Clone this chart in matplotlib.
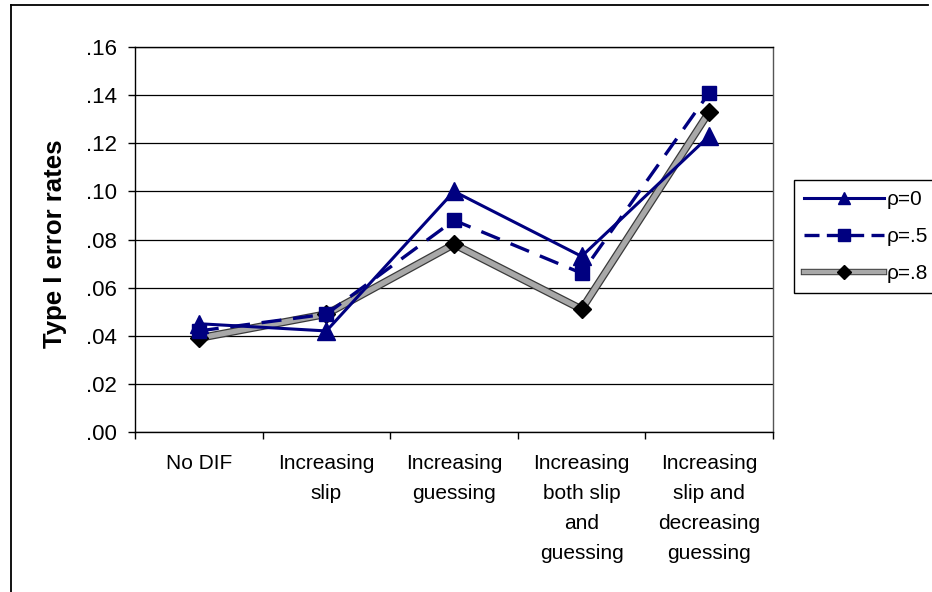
import matplotlib
matplotlib.use("Agg")
import matplotlib.pyplot as plt
import matplotlib.patheffects as pe
from matplotlib.lines import Line2D
from matplotlib.legend_handler import HandlerTuple
from matplotlib.ticker import FixedLocator, FuncFormatter

categories = ["No DIF", "Increasing\nslip", "Increasing\nguessing",
              "Increasing\nboth slip\nand\nguessing",
              "Increasing\nslip and\ndecreasing\nguessing"]
rho0 = [0.045, 0.042, 0.100, 0.073, 0.123]
rho5 = [0.042, 0.049, 0.088, 0.066, 0.141]
rho8 = [0.039, 0.049, 0.078, 0.051, 0.133]
series_labels = ["ρ=0", "ρ=.5", "ρ=.8"]
yticks = [0.00, 0.02, 0.04, 0.06, 0.08, 0.10, 0.12, 0.14, 0.16]

plt.rcParams['font.family'] = ['Liberation Sans', 'DejaVu Sans']

W, H = 932, 592
fig = plt.figure(figsize=(W / 100, H / 100), dpi=100)
fig.patch.set_facecolor('white')

# outer chart border
fig.add_artist(Line2D([11 / W, 928 / W], [1 - 5 / H, 1 - 5 / H], transform=fig.transFigure,
                      color='black', lw=1.3))
fig.add_artist(Line2D([11 / W, 11 / W], [1 - 5 / H, 0], transform=fig.transFigure,
                      color='black', lw=1.3))

ax = fig.add_axes([135 / W, (H - 432) / H, (773 - 135) / W, (432 - 47) / H])
x = list(range(len(categories)))

navy = '#000080'
gray_fx = [pe.Stroke(linewidth=5.6, foreground='#3a3a3a'), pe.Normal()]
l0, = ax.plot(x, rho0, color=navy, lw=2.2, marker='^', markersize=13,
              markeredgecolor=navy, markerfacecolor=navy, zorder=4)
l5, = ax.plot(x, rho5, color=navy, lw=2.4, dashes=(6, 3.5), marker='s', markersize=10,
              markeredgecolor=navy, markerfacecolor=navy, zorder=3)
l8line, = ax.plot(x, rho8, color='#a8a8a8', lw=3.8, zorder=2, path_effects=gray_fx)
l8mark, = ax.plot(x, rho8, linestyle='none', marker='D', markersize=9,
                  markeredgecolor='black', markerfacecolor='black', zorder=2.5)

ax.set_xlim(-0.5, len(categories) - 0.5)
ax.set_ylim(0, 0.16)
ax.yaxis.set_major_locator(FixedLocator(yticks))
ax.yaxis.set_major_formatter(FuncFormatter(lambda v, p: ('%.2f' % v)[1:]))
ax.grid(axis='y', color='black', lw=0.9)
ax.set_axisbelow(True)

ax.set_xticks(x)
ax.set_xticklabels(categories, fontsize=15, linespacing=1.72)
ax.set_xticks([i - 0.5 for i in range(len(categories) + 1)], minor=True)
ax.tick_params(axis='x', which='major', length=0, pad=16)
ax.tick_params(axis='x', which='minor', length=5, direction='out', width=1)
ax.tick_params(axis='y', length=5, direction='out', width=1, pad=8, labelsize=16)

for s in ax.spines.values():
    s.set_color('black')
    s.set_linewidth(1)
ax.spines['right'].set_color('#555555')

fig.text(55 / W, 1 - 244 / H, "Type I error rates", rotation=90, ha='center', va='center',
         fontsize=18.5, fontweight='bold')

# legend handles (smaller markers than in the plot)
h0 = Line2D([], [], color=navy, lw=2.2, marker='^', markersize=9,
            markeredgecolor=navy, markerfacecolor=navy)
h5 = Line2D([], [], color=navy, lw=2.4, dashes=(4.5, 2.2), marker='s', markersize=8,
            markeredgecolor=navy, markerfacecolor=navy)
h8a = Line2D([], [], color='#a8a8a8', lw=3.2,
             path_effects=[pe.Stroke(linewidth=4.6, foreground='#3a3a3a'), pe.Normal()])
h8b = Line2D([], [], linestyle='none', marker='D', markersize=7,
             markeredgecolor='black', markerfacecolor='black')

leg = fig.legend(handles=[h0, h5, (h8a, h8b)], labels=series_labels, loc='upper left',
                 bbox_to_anchor=(794 / W, 1 - 180 / H), fontsize=15, frameon=True,
                 fancybox=False, edgecolor='black', framealpha=1, handlelength=3.8,
                 handletextpad=0.15, borderpad=0.5, labelspacing=0.85, borderaxespad=0,
                 handler_map={tuple: HandlerTuple(ndivide=1, pad=0)})
leg.get_frame().set_linewidth(1)

fig.savefig("out.png", dpi=100, facecolor='white')
